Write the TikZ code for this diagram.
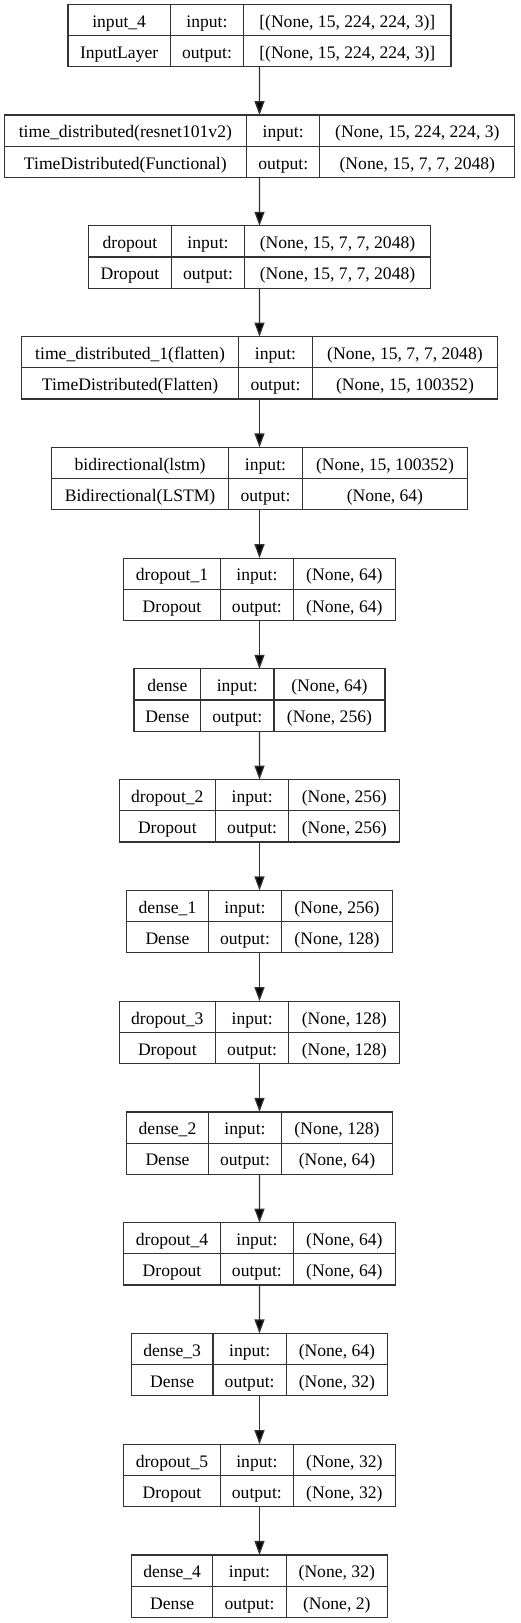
\documentclass[tikz,border=0pt]{standalone}
\usepackage{fontspec}
\setmainfont{Liberation Serif}
\usetikzlibrary{positioning,fit,arrows.meta}

\tikzset{
  cell/.style={draw=black!80, line width=1.2pt, inner sep=0pt, outer sep=0pt,
    minimum height=31.2pt, text height=16.5pt, text depth=2pt,
    font=\fontsize{17.6}{20}\selectfont},
  flow/.style={draw=black!80, line width=1.3pt,
    -{Triangle[width=10pt,length=14pt,fill=black]}}
}

\begin{document}
\begin{tikzpicture}[x=1pt,y=1pt]

  \useasboundingbox (0,0) rectangle (520,-1623);

  % layers: index / name / class / input shape / output shape / name width / shape width
  \foreach \k/\name/\cls/\ins/\outs/\wa/\wc in {
    0/input\_4/InputLayer/{[(None, 15, 224, 224, 3)]}/{[(None, 15, 224, 224, 3)]}/102.3/207.4,
    1/time\_distributed(resnet101v2)/TimeDistributed(Functional)/{(None, 15, 224, 224, 3)}/{(None, 15, 7, 7, 2048)}/242.4/195,
    2/dropout/Dropout/{(None, 15, 7, 7, 2048)}/{(None, 15, 7, 7, 2048)}/82.7/185.7,
    3/time\_distributed\_1(flatten)/TimeDistributed(Flatten)/{(None, 15, 7, 7, 2048)}/{(None, 15, 100352)}/217.6/185.6,
    4/bidirectional(lstm)/Bidirectional(LSTM)/{(None, 15, 100352)}/{(None, 64)}/177.6/165.6,
    5/dropout\_1/Dropout/{(None, 64)}/{(None, 64)}/96.4/101.6,
    6/dense/Dense/{(None, 64)}/{(None, 256)}/66.6/111,
    7/dropout\_2/Dropout/{(None, 256)}/{(None, 256)}/96.3/111,
    8/dense\_1/Dense/{(None, 256)}/{(None, 128)}/81.7/110.7,
    9/dropout\_3/Dropout/{(None, 128)}/{(None, 128)}/96.3/111,
    10/dense\_2/Dense/{(None, 128)}/{(None, 64)}/81.7/110.7,
    11/dropout\_4/Dropout/{(None, 64)}/{(None, 64)}/96.4/101.6,
    12/dense\_3/Dense/{(None, 64)}/{(None, 32)}/81.6/101.3,
    13/dropout\_5/Dropout/{(None, 32)}/{(None, 32)}/96.4/101.7,
    14/dense\_4/Dense/{(None, 32)}/{(None, 2)}/81.3/101.3}
  {
    \pgfmathsetmacro\xl{259.5-(\wa+73.3+\wc)/2}
    \pgfmathsetmacro\yt{-(4.3+110.76*\k)}
    % top row
    \node[cell, minimum width=\wa pt, anchor=north west] (n\k) at (\xl,\yt) {\name};
    \node[cell, minimum width=73.3pt, right=0pt of n\k] (i\k) {input:};
    \node[cell, minimum width=\wc pt, right=0pt of i\k] (s\k) {\ins};
    % bottom row
    \node[cell, minimum width=\wa pt, below=0pt of n\k] (c\k) {\cls};
    \node[cell, minimum width=73.3pt, below=0pt of i\k] (o\k) {output:};
    \node[cell, minimum width=\wc pt, below=0pt of s\k] (t\k) {\outs};
    % whole layer
    \node[fit=(n\k)(t\k), inner sep=0pt, outer sep=0pt] (L\k) {};
  }

  % connectors
  \foreach \k [evaluate=\k as \j using int(\k+1)] in {0,...,13}
    \draw[flow] (L\k.south) -- (L\j.north);

\end{tikzpicture}
\end{document}
